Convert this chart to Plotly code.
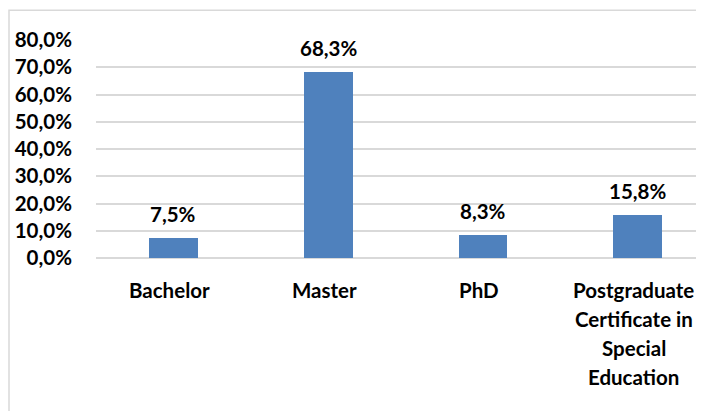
import plotly.graph_objects as go

# Dados do gráfico
categorias = ["Bachelor", "Master", "PhD", "Postgraduate Certificate in Special Education"]
linhas_rotulo = [["Bachelor"], ["Master"], ["PhD"],
                 ["Postgraduate", "Certificate in", "Special", "Education"]]
percentuais = [7.5, 68.3, 8.3, 15.8]
ticks_y = [0, 10, 20, 30, 40, 50, 60, 70, 80]
rotulos_y = ["0,0%", "10,0%", "20,0%", "30,0%", "40,0%", "50,0%", "60,0%", "70,0%", "80,0%"]

fonte = dict(family="Lato", size=20.5, color="#000000", weight="bold")
cor_barra = "#4F81BD"
cor_grade = "#D9D9D9"

fig = go.Figure()
fig.add_trace(go.Bar(
    x=categorias,
    y=percentuais,
    marker=dict(color=cor_barra, line=dict(width=0)),
    width=0.316,
    hoverinfo="skip",
))

# Rótulos de dados acima das barras
for cat, val in zip(categorias, percentuais):
    fig.add_annotation(
        x=cat, y=val, xref="x", yref="y",
        text=f"{val:.1f}%".replace(".", ","),
        showarrow=False, yanchor="bottom", yshift=10,
        font=fonte,
    )

# Rótulos das categorias (linha a linha, para imitar o espaçamento do Excel)
for cat, linhas in zip(categorias, linhas_rotulo):
    for i, linha in enumerate(linhas):
        fig.add_annotation(
            x=cat, y=0, xref="x", yref="y",
            text=linha, showarrow=False, yanchor="middle",
            xshift=-4, yshift=-(32 + 29 * i),
            font=fonte,
        )

# Borda da área do gráfico (cortada à direita e embaixo, como na imagem)
fig.add_shape(
    type="rect", xref="paper", yref="paper",
    x0=-0.145, x1=1.2, y0=-1.2, y1=1.137,
    line=dict(color=cor_grade, width=1.5),
    fillcolor="rgba(0,0,0,0)", layer="below",
)

fig.update_layout(
    width=688, height=403,
    margin=dict(l=88, r=0, t=32, b=153),
    paper_bgcolor="white", plot_bgcolor="white",
    showlegend=False,
    bargap=0,
    xaxis=dict(
        range=[-0.5, 3.376],
        showticklabels=False, showgrid=False, zeroline=False,
        showline=False, ticks="",
    ),
    yaxis=dict(
        range=[0, 80],
        tickvals=ticks_y, ticktext=rotulos_y,
        tickfont=fonte,
        showgrid=True, gridcolor=cor_grade, gridwidth=1.5,
        zeroline=True, zerolinecolor=cor_grade, zerolinewidth=1.5,
        showline=False, ticks="", ticklabelstandoff=23,
    ),
)

fig.write_html("out.html")
